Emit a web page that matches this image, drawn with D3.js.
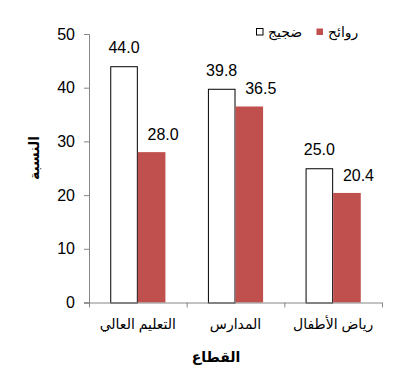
<!DOCTYPE html>
<html>
<head>
<meta charset="utf-8">
<script src="https://cdn.jsdelivr.net/npm/d3@7"></script>
<style>
  body { margin: 0; background: #fff; }
  svg text { font-family: "Liberation Sans", Arial, "DejaVu Sans", sans-serif; fill: #000; }
</style>
</head>
<body>
<svg width="412" height="374"></svg>
<script>
// categories left to right
const sectors = ['التعليم العالي', 'المدارس', 'رياض الأطفال'];
const seriesNames = ['ضجيج', 'روائح'];
const noise = [44.0, 39.8, 25.0];
const odors = [28.0, 36.5, 20.4];
const yTicks = [0, 10, 20, 30, 40, 50];

const svg = d3.select('svg');
const plotLeft = 89, plotRight = 382, plotTop = 34, plotBottom = 302.5;

const x = d3.scaleBand()
    .domain(sectors)
    .range([plotLeft, plotRight])
    .padding(0);
const xSeries = d3.scaleBand()
    .domain(seriesNames)
    .range([0, x.bandwidth()])
    .paddingInner(0)
    .paddingOuter(0.77);
const xEdges = d3.scaleLinear().domain([0, sectors.length]).range([plotLeft, plotRight]);
const y = d3.scaleLinear().domain([0, 50]).range([plotBottom, plotTop]);

const colors = { 'ضجيج': '#ffffff', 'روائح': '#c0504d' };
const strokes = { 'ضجيج': '#000', 'روائح': 'none' };
// label offsets as placed in the original
const labelDx = { 'ضجيج': 0, 'روائح': 11.5 };
const labelDy = { 'ضجيج': -13, 'روائح': -12 };

const rows = sectors.map((s, i) => ({ sector: s, values: [
    { name: seriesNames[0], value: noise[i] },
    { name: seriesNames[1], value: odors[i] }
] }));

// bars
const groups = svg.selectAll('g.sector')
    .data(rows)
    .enter()
    .append('g')
    .attr('class', 'sector')
    .attr('transform', d => `translate(${x(d.sector)},0)`);

groups.selectAll('rect')
    .data(d => d.values)
    .enter()
    .append('rect')
    .attr('x', d => xSeries(d.name) + (d.name === seriesNames[0] ? 0.5 : 0))
    .attr('y', d => y(d.value) + (d.name === seriesNames[0] ? 0.5 : 0))
    .attr('width', d => xSeries.bandwidth() - (d.name === seriesNames[0] ? 1 : 0))
    .attr('height', d => plotBottom - y(d.value))
    .attr('fill', d => colors[d.name])
    .attr('stroke', d => strokes[d.name])
    .attr('stroke-width', 1);

groups.selectAll('text.value')
    .data(d => d.values)
    .enter()
    .append('text')
    .attr('class', 'value')
    .attr('x', d => xSeries(d.name) + xSeries.bandwidth() / 2 + labelDx[d.name])
    .attr('y', d => y(d.value) + labelDy[d.name])
    .attr('text-anchor', 'middle')
    .style('font-size', '16px')
    .text(d => d.value.toFixed(1));

// y axis
const yAxis = svg.append('g')
    .attr('transform', `translate(${plotLeft},0)`)
    .call(d3.axisLeft(y).tickValues(yTicks).tickSize(5).tickPadding(9));
yAxis.selectAll('text').style('font-size', '16px').attr('fill', '#000');

// x axis: boundary ticks
const xAxis = svg.append('g')
    .attr('transform', `translate(0,${plotBottom})`)
    .call(d3.axisBottom(xEdges).tickValues(d3.range(sectors.length + 1)).tickSize(5).tickFormat(''));
xAxis.select('.domain').attr('d', `M${plotLeft - 5},0.5H${plotRight}`);

[yAxis, xAxis].forEach(a => {
    a.select('.domain').attr('stroke', '#868686');
    a.selectAll('.tick line').attr('stroke', '#868686');
});

// category labels
svg.append('g')
    .selectAll('text')
    .data(sectors)
    .enter()
    .append('text')
    .attr('x', d => x(d) + x.bandwidth() / 2)
    .attr('y', 329)
    .attr('text-anchor', 'middle')
    .style('font-size', '14px')
    .text(d => d);

// axis titles
svg.append('text')
    .attr('x', 216)
    .attr('y', 362)
    .attr('text-anchor', 'middle')
    .style('font-size', '14px')
    .style('font-weight', 'bold')
    .text('القطاع');

svg.append('text')
    .attr('transform', 'translate(39,158) rotate(-90)')
    .attr('text-anchor', 'middle')
    .style('font-size', '14px')
    .style('font-weight', 'bold')
    .text('النسبة');

// legend
const legend = svg.append('g');
const legendItems = [
    { name: seriesNames[0], x: 256 },
    { name: seriesNames[1], x: 316 }
];
legend.selectAll('rect')
    .data(legendItems)
    .enter()
    .append('rect')
    .attr('x', d => d.x + 0.5)
    .attr('y', 28.5)
    .attr('width', 6.5)
    .attr('height', 6.5)
    .attr('fill', d => colors[d.name])
    .attr('stroke', d => d.name === seriesNames[0] ? '#000' : 'none');
legend.selectAll('text')
    .data(legendItems)
    .enter()
    .append('text')
    .attr('x', d => d.x + 12)
    .attr('y', 37)
    .style('font-size', '14px')
    .text(d => d.name);
</script>
</body>
</html>
